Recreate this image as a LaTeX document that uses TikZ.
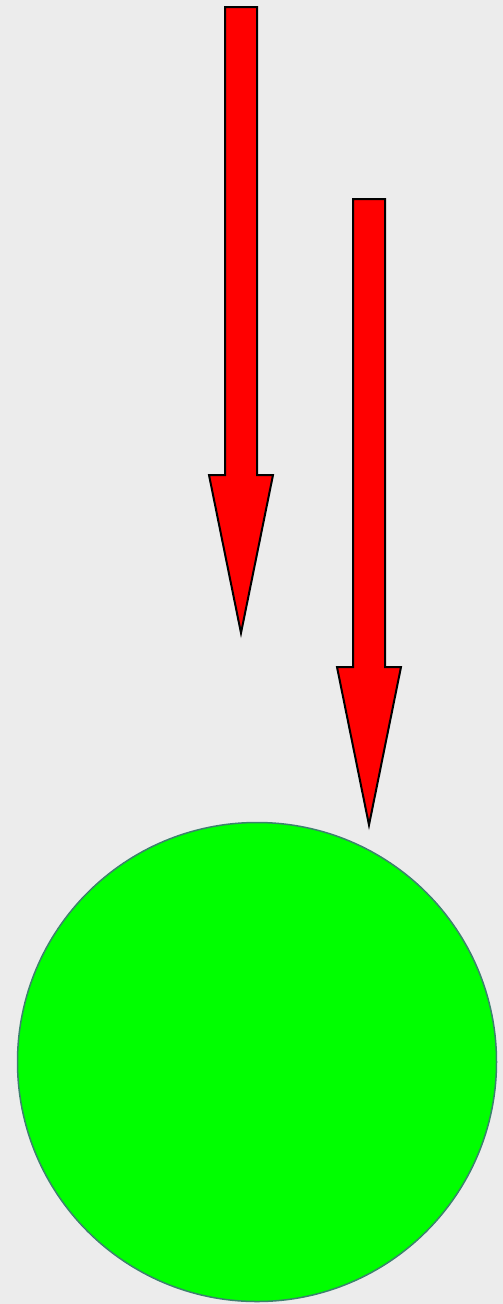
\documentclass[tikz,border=0pt]{standalone}
\definecolor{bg}{RGB}{236,236,236}
\definecolor{arrowred}{RGB}{255,0,0}
\definecolor{ballgreen}{RGB}{0,255,0}
\definecolor{balledge}{RGB}{60,130,110}
\tikzset{
  blockarrow/.style={fill=arrowred, draw=black, line width=2pt, line join=miter},
  ball/.style={fill=ballgreen, draw=balledge, line width=1.5pt}
}
\begin{document}
\begin{tikzpicture}[x=1pt,y=-1pt]
\fill[bg] (0,0) rectangle (503,1304);
\useasboundingbox (0,0) rectangle (503,1304);
% arrow 1
\draw[blockarrow] (225,7) -- (257,7) -- (257,475) -- (273,475) -- (241,633) -- (209,475) -- (225,475) -- cycle;
% arrow 2
\draw[blockarrow] (353,199) -- (385,199) -- (385,667) -- (401,667) -- (369,825) -- (337,667) -- (353,667) -- cycle;
% circle
\draw[ball] (257,1062) circle (239.5);
\end{tikzpicture}
\end{document}
